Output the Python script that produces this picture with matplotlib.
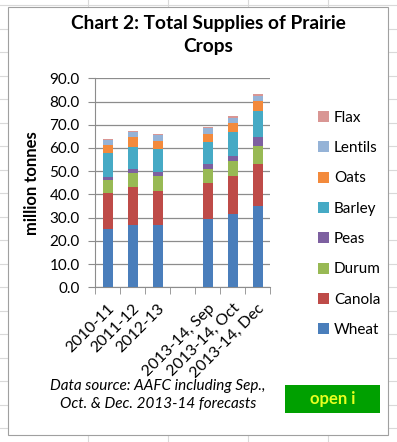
import numpy as np
import matplotlib
matplotlib.use("Agg")
import matplotlib.pyplot as plt
from matplotlib.patches import Rectangle, Patch
from matplotlib.lines import Line2D

plt.rcParams['font.family'] = ['Lato', 'DejaVu Sans']

categories = ["2010-11", "2011-12", "2012-13", "", "2013-14, Sep", "2013-14, Oct", "2013-14, Dec"]
nan = np.nan
wheat   = [25.0, 26.9, 27.0, nan, 29.4, 31.4, 35.1]
canola  = [15.4, 16.5, 14.4, nan, 15.3, 16.7, 18.2]
durum   = [5.6, 5.7, 6.5, nan, 6.2, 6.5, 7.7]
peas    = [1.7, 2.0, 1.8, nan, 2.0, 2.0, 3.9]
barley  = [10.0, 9.5, 9.7, nan, 9.8, 10.4, 11.1]
oats    = [3.7, 4.0, 3.5, nan, 3.2, 3.9, 4.1]
lentils = [2.0, 2.3, 2.7, nan, 2.7, 2.1, 2.2]
flax    = [0.3, 0.5, 0.3, nan, 0.4, 0.6, 0.8]

series_names = ["Wheat", "Canola", "Durum", "Peas", "Barley", "Oats", "Lentils", "Flax"]
series_vals = [wheat, canola, durum, peas, barley, oats, lentils, flax]
colors = ["#4A7EBB", "#BE4B48", "#98B954", "#7D60A0", "#46AAC5", "#F38A3C", "#95B3D7", "#D99694"]

W, H = 397, 442
fig = plt.figure(figsize=(W / 100, H / 100), dpi=100)

# background spreadsheet cell grid
grid_c = "#D9D9D9"
for x in [88, 168, 248, 328]:
    fig.add_artist(Line2D([x / W, x / W], [0, 1], color=grid_c, lw=0.8, zorder=0))
for y in np.arange(5, 442, 23.5):
    fig.add_artist(Line2D([0, 1], [1 - y / H, 1 - y / H], color=grid_c, lw=0.8, zorder=0))

# chart area box
fig.add_artist(Rectangle((8 / W, 1 - 435 / H), 380 / W, 428 / H, transform=fig.transFigure,
                         facecolor="white", edgecolor="#A0A0A0", lw=0.8, zorder=1))

ax = fig.add_axes([95 / W, 1 - 287.3 / H, 175 / W, 209 / H], zorder=2)
ax.patch.set_alpha(0)

x = np.arange(len(categories))
bottom = np.zeros(len(categories))
for name, vals, c in zip(series_names, series_vals, colors):
    v = np.array(vals, dtype=float)
    ax.bar(x, np.nan_to_num(v), width=0.4, bottom=bottom, color=c, label=name, zorder=3)
    bottom = bottom + np.nan_to_num(v)

ax.set_xlim(-0.5, len(categories) - 0.5)
ax.set_ylim(0, 90)
ax.set_yticks(np.arange(0, 91, 10))
ax.set_yticklabels([f"{t:.1f}" for t in np.arange(0, 91, 10)], fontsize=11)
ax.yaxis.grid(True, color="#8C8C8C", lw=0.9, zorder=0)
ax.set_axisbelow(True)
ax.tick_params(axis='y', direction='out', length=5, color="#8C8C8C", pad=6)

ax.set_xticks(x)
ax.set_xticklabels(categories, rotation=45, ha='right', rotation_mode='anchor', fontsize=11.5)
ax.tick_params(axis='x', which='major', length=0, pad=10)
ax.set_xticks(np.arange(-0.5, len(categories), 1.0), minor=True)
ax.tick_params(axis='x', which='minor', direction='out', length=5, color="#8C8C8C")

for s in ["top", "right"]:
    ax.spines[s].set_visible(False)
for s in ["left", "bottom"]:
    ax.spines[s].set_color("#8C8C8C")

ax.set_ylabel("million tonnes", fontsize=12, fontweight='bold', labelpad=7)

fig.text(208 / W, 1 - 35 / H, "Chart 2: Total Supplies of Prairie\nCrops", ha='center', va='center',
         fontsize=13.8, fontweight='bold', linespacing=1.4, zorder=3)

handles = [Patch(facecolor=c, label=n) for n, c in zip(series_names, colors)][::-1]
fig.legend(handles=handles, loc='upper left', bbox_to_anchor=(304 / W, 1 - 97 / H), frameon=False,
           fontsize=11, handlelength=0.75, handleheight=0.75, handletextpad=0.3, labelspacing=1.07)

fig.text(158 / W, 1 - 395 / H, "Data source: AAFC including Sep.,\nOct. & Dec. 2013-14 forecasts",
         ha='center', va='center', fontsize=11, style='italic', linespacing=1.3, zorder=3)

fig.add_artist(Rectangle((285 / W, 1 - 413 / H), 95 / W, 28 / H, transform=fig.transFigure,
                         facecolor="#00A000", edgecolor="none", zorder=3))
fig.text(332.5 / W, 1 - 399 / H, "open i", ha='center', va='center', fontsize=12,
         fontweight='bold', color="#E8FF20", zorder=4)

fig.savefig("out.png", dpi=100)
